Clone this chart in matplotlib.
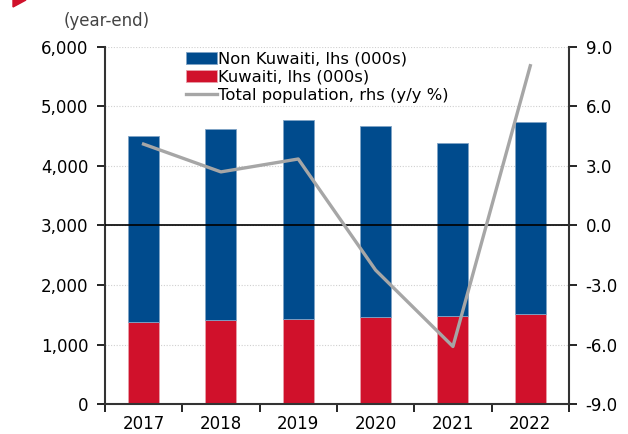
import matplotlib.pyplot as plt
from matplotlib.patches import Polygon
import numpy as np

years = ['2017', '2018', '2019', '2020', '2021', '2022']
kuwaiti = [1375, 1410, 1432, 1455, 1485, 1520]
total_pop = [4505, 4618, 4773, 4672, 4383, 4736]
non_kuwaiti = [t - k for t, k in zip(total_pop, kuwaiti)]
growth = [4.1, 2.7, 3.35, -2.25, -6.1, 8.05]

blue = '#004b8d'
red = '#d0112b'
grey = '#a6a6a6'

plt.rcParams['font.family'] = ['DejaVu Sans']

fig = plt.figure(figsize=(6.28, 4.34), dpi=100)
ax = fig.add_axes([0.167, 0.069, 0.739, 0.823])
x = np.arange(len(years))

ax.bar(x, kuwaiti, width=0.4, color=red, edgecolor='#e8a0aa', linewidth=0.6,
       label='Kuwaiti, lhs (000s)', zorder=2)
ax.bar(x, non_kuwaiti, bottom=kuwaiti, width=0.4, color=blue, edgecolor='#7fa3c6',
       linewidth=0.6, label='Non Kuwaiti, lhs (000s)', zorder=2)
ax.axhline(3000, color='black', linewidth=1.2, zorder=3)

ax.set_ylim(0, 6000)
ax.set_yticks(range(0, 6001, 1000))
ax.set_yticklabels([f'{v:,}' for v in range(0, 6001, 1000)])
ax.set_xlim(-0.5, len(years) - 0.5)
ax.set_xticks(x)
ax.set_xticklabels(years)
ax.set_xticks(np.arange(-0.5, len(years)), minor=True)
ax.tick_params(axis='x', which='major', length=0, pad=8, labelsize=12)
ax.tick_params(axis='x', which='minor', length=6, width=1.2, direction='out')
ax.tick_params(axis='y', length=6, width=1.2, direction='out', labelsize=12, pad=6)
ax.grid(axis='y', linestyle=(0, (1, 1.5)), color='#d0d0d0', linewidth=0.8, zorder=0)
ax.spines['top'].set_visible(False)
ax.spines['right'].set_visible(False)
for s in ['left', 'bottom']:
    ax.spines[s].set_linewidth(1.5)
    ax.spines[s].set_color('#333333')

ax2 = ax.twinx()
ax2.plot(x, growth, color=grey, linewidth=2.4, label='Total population, rhs (y/y %)', zorder=4)
ax2.set_ylim(-9, 9)
ax2.set_yticks(np.arange(-9, 9.1, 3))
ax2.set_yticklabels([f'{v:.1f}' for v in np.arange(-9, 9.1, 3)])
ax2.tick_params(axis='y', length=6, width=1.2, direction='out', labelsize=12, pad=6)
for s in ['top', 'left', 'bottom']:
    ax2.spines[s].set_visible(False)
ax2.spines['right'].set_linewidth(1.5)
ax2.spines['right'].set_color('#333333')

h1, l1 = ax.get_legend_handles_labels()
h2, l2 = ax2.get_legend_handles_labels()
ax2.legend([h1[1], h1[0], h2[0]], [l1[1], l1[0], l2[0]], loc='upper left',
           bbox_to_anchor=(0.16, 1.005), frameon=False, fontsize=11.8,
           handlelength=1.9, handleheight=0.7, handletextpad=0.1, labelspacing=0.2,
           borderaxespad=0)

fig.text(0.17, 0.93, '(year-end)', ha='center', va='bottom', fontsize=12, color='#444444')
fig.patches.append(Polygon([[13 / 628, 1], [26 / 628, 1], [13 / 628, 1 - 7 / 434]],
                           closed=True, transform=fig.transFigure, color=red))

fig.savefig('out.png', dpi=100)
